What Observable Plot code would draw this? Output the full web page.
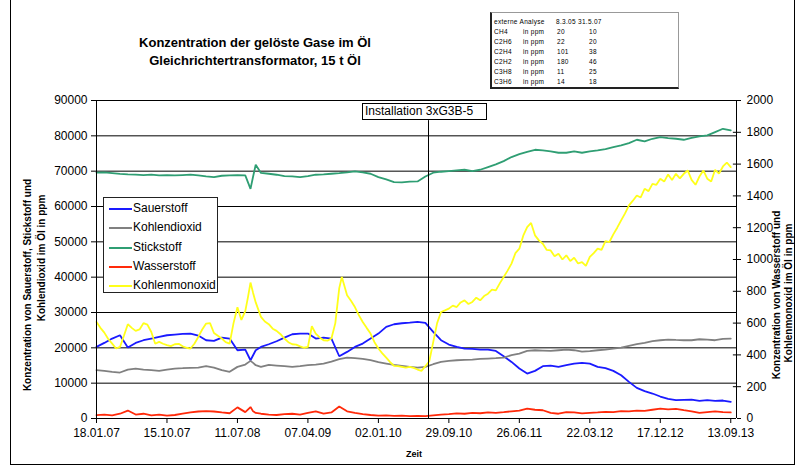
<!DOCTYPE html>
<html><head><meta charset="utf-8">
<script src="https://cdn.jsdelivr.net/npm/d3@7"></script>
<script src="https://cdn.jsdelivr.net/npm/@observablehq/plot@0.6"></script>
<style>
body{margin:0;background:#fff;font-family:"Liberation Sans",Arial,sans-serif;color:#000;}
#wrap{position:relative;width:802px;height:470px;overflow:hidden;background:#fff;}
#wrap svg{position:absolute;left:0;top:0;}
#frame{position:absolute;left:10px;top:-2px;width:785px;height:467px;border:1px solid #000;box-sizing:border-box;}
#title{position:absolute;left:100px;width:310px;top:34px;text-align:center;font-weight:bold;font-size:13px;line-height:18px;}
#table{position:absolute;left:490px;top:12px;width:189px;height:77px;border:1px solid #999;border-left:2px solid #222;border-bottom:2px solid #222;box-sizing:border-box;background:#fff;}
#table span{position:absolute;font-size:6.5px;line-height:8px;white-space:nowrap;letter-spacing:0.3px;}
#legend{position:absolute;left:103px;top:197px;width:115px;height:96px;border:1px solid #222;box-sizing:border-box;background:#fff;}
.li{position:absolute;left:0;height:19px;font-size:12px;line-height:19px;}
.li i{position:absolute;left:5px;top:9px;width:23px;height:2px;}
.li span{position:absolute;left:29px;top:0;white-space:nowrap;}
#inst{position:absolute;top:103px;height:17px;width:125px;border:1px solid #000;box-sizing:border-box;background:#fff;font-size:12px;line-height:15px;padding-left:2px;}
#zeit{position:absolute;left:406px;top:449px;font-size:9px;font-weight:bold;}
</style></head><body><div id="wrap"></div>
<script>
// ---- data ----
const startDate = "2007-01-18";
const axisEndDay = 2452;
const installationDay = 1272;
const installationLabel = "Installation 3xG3B-5";
const seriesNames = ["Sauerstoff","Kohlendioxid","Stickstoff","Wasserstoff","Kohlenmonoxid"];
const seriesColors = ["#1a1aff","#808080","#2f9e73","#ff2a0a","#ffff1a"];
const xTickLabels = ["18.01.07","15.10.07","11.07.08","07.04.09","02.01.10","29.09.10","26.06.11","22.03.12","17.12.12","13.09.13"];
const leftTicks = [0,10000,20000,30000,40000,50000,60000,70000,80000,90000];
const rightTicks = [0,200,400,600,800,1000,1200,1400,1600,1800,2000];

// days after 18.01.07
const dayOffsets = [0,30,60,90,120,150,180,210,240,270,300,330,360,390,420,450,480,510,540,570,590,600,610,630,660,690,720,750,780,810,840,870,900,930,960,990,1020,1050,1080,1110,1140,1170,1200,1230,1260,1290,1320,1350,1380,1410,1440,1470,1500,1530,1560,1590,1620,1650,1680,1710,1740,1770,1800,1830,1860,1890,1920,1950,1980,2010,2040,2070,2100,2130,2160,2190,2220,2250,2280,2310,2340,2370,2400,2430];

// primary axis (ppm)
const sauerstoff = [20260,21390,22620,23560,20080,21390,22150,22620,23090,23560,23750,23940,24030,23470,22150,21960,22900,22620,19320,19510,16490,17910,19320,20260,21020,21870,22900,23840,24030,24030,22620,22900,22620,17620,18850,20260,21210,22620,24030,25920,26670,26960,27140,27330,27050,24500,22150,20920,20260,19790,19700,19510,19510,19130,17620,16020,14140,12720,13480,14800,14990,14610,15080,15550,15740,15550,14610,14230,13480,12250,10370,8670,7730,7070,6220,5560,5180,5280,5370,5000,5180,5000,5090,4710];
const kohlendioxid = [13670,13480,13200,13010,13850,14140,13850,13670,13480,13850,14140,14230,14330,14420,14800,14420,13670,13200,14610,15270,16310,15740,15080,14610,15170,14990,14800,14610,14800,15080,15270,15550,16120,16780,17250,17060,16870,16490,15930,15550,15170,14900,14610,14420,14610,15360,16020,16310,16490,16590,16680,16870,16970,17060,17250,17910,18380,19130,19320,19230,19130,19320,19510,19320,18940,19040,19320,19510,19790,20080,20550,21020,21400,21870,22150,22340,22240,22150,22150,22430,22340,22150,22530,22620];
const stickstoff = [69600,69650,69450,69250,69100,69000,68900,69000,68800,68900,68800,68900,69000,68800,68500,68300,68700,68800,68900,68800,65000,68500,71800,69500,69270,68990,68600,68500,68330,68600,68990,69080,69270,69460,69650,69930,69650,69270,68330,67670,66920,66830,67020,67100,68500,69560,69840,70030,70220,70400,70030,70400,71160,71910,72850,73990,74830,75490,76060,75870,75590,75210,75210,75590,75210,75590,75870,76250,76810,77290,77940,78890,78420,79170,79640,79360,79170,78890,79450,79830,80110,81050,82000,81530];
// secondary axis (ppm)
const wasserstoff = [21,25,20,30,50,25,30,20,25,18,22,30,38,44,46,44,38,33,70,40,72,45,35,30,25,22,28,30,25,35,45,30,38,75,45,35,28,22,18,20,16,18,15,17,15,20,25,28,32,30,35,33,38,36,40,45,50,62,55,52,35,30,40,38,32,35,38,42,40,46,45,50,48,55,62,58,60,52,45,35,40,45,40,38];

// Kohlenmonoxid is read on a finer day grid (its own days)
const kohlenmonoxidDays = [0,15,30,45,60,75,90,105,120,135,150,165,180,195,210,225,240,255,270,285,300,315,330,345,360,375,390,405,420,435,450,465,480,495,510,525,540,555,570,580,590,600,610,630,645,660,675,690,705,720,735,750,765,780,795,810,825,840,855,870,885,900,915,930,940,960,975,990,1005,1020,1035,1050,1065,1080,1095,1110,1125,1140,1155,1170,1185,1200,1215,1230,1245,1260,1275,1290,1305,1320,1335,1350,1365,1380,1395,1410,1425,1440,1455,1470,1485,1500,1515,1530,1545,1560,1575,1590,1605,1620,1635,1650,1665,1680,1695,1710,1725,1740,1755,1770,1785,1800,1815,1830,1845,1860,1875,1890,1905,1920,1935,1950,1965,1980,1995,2010,2025,2040,2055,2070,2085,2100,2115,2130,2145,2160,2175,2190,2205,2220,2235,2250,2265,2280,2295,2310,2325,2340,2355,2370,2385,2400,2415,2430];
const kohlenmonoxid = [607,570,540,500,471,440,450,520,593,570,551,560,600,590,544,470,482,470,461,455,467,470,454,445,440,470,513,560,597,600,538,520,503,480,471,600,700,620,675,760,855,790,730,639,610,593,565,551,530,503,480,467,465,454,445,450,580,534,510,492,490,503,600,820,890,775,740,701,650,607,570,534,480,440,410,383,355,331,330,325,320,325,318,308,300,329,360,480,600,670,680,691,710,701,730,743,720,733,760,743,770,785,810,806,850,890,930,974,1040,1068,1150,1204,1230,1152,1120,1099,1060,1057,1020,1036,1000,1026,990,1011,975,984,960,1016,1040,1068,1060,1116,1110,1158,1200,1246,1290,1340,1370,1403,1390,1445,1430,1476,1470,1508,1490,1535,1500,1539,1510,1539,1560,1501,1470,1522,1560,1508,1490,1564,1540,1585,1610,1581];

const tableHeader = ["externe Analyse","8.3.05","31.5.07"];
const gasNames = ["CH4","C2H6","C2H4","C2H2","C3H8","C3H6"];
const gasUnit = "in ppm";
const analysis1 = [20,22,101,180,11,14];
const analysis2 = [10,20,38,46,25,18];

const titleLines = ["Konzentration der gelöste Gase im Öl","Gleichrichtertransformator, 15 t Öl"];
const leftTitle = ["Konzentration von Sauerstoff, Stickstoff und","Kohlendioxid im Öl in ppm"];
const rightTitle = ["Konzentration von Wasserstoff und","Kohlenmonoxid im Öl in ppm"];
const xTitle = "Zeit";

// ---- build ----
const ratio = leftTicks[leftTicks.length-1] / rightTicks[rightTicks.length-1];
const start = d3.utcParse("%Y-%m-%d")(startDate);
const toDate = d => new Date(start.getTime() + d * 864e5);
const end = toDate(axisEndDay);
const instDate = toDate(installationDay);
const tickDates = xTickLabels.map(d3.utcParse("%d.%m.%y"));
const rows = (days, vals, f) => days.map((d, i) => ({date: toDate(d), y: vals[i] * f}));
const seriesRows = [
  rows(dayOffsets, sauerstoff, 1),
  rows(dayOffsets, kohlendioxid, 1),
  rows(dayOffsets, stickstoff, 1),
  rows(dayOffsets, wasserstoff, ratio),
  rows(kohlenmonoxidDays, kohlenmonoxid, ratio)
];

const chart = Plot.plot({
  width: 802, height: 470,
  marginLeft: 96, marginRight: 66, marginTop: 100, marginBottom: 52,
  style: {fontFamily: "Liberation Sans, Arial, sans-serif", fontSize: "12px", color: "#000", background: "transparent", overflow: "visible"},
  x: {type: "utc", domain: [start, end]},
  y: {domain: [0, 90000]},
  marks: [
    Plot.ruleY(leftTicks.filter(v => v > 0), {stroke: "#000", strokeWidth: 1}),
    ...seriesRows.map((r, k) => Plot.line(r, {x: "date", y: "y", stroke: seriesColors[k], strokeWidth: 1.8, strokeLinejoin: "miter"})),
    Plot.ruleX([instDate], {y1: 0, y2: 84300, stroke: "#000", strokeWidth: 1}),
    Plot.ruleX([start], {stroke: "#000"}),
    Plot.ruleX([end], {stroke: "#000"}),
    Plot.ruleY([0], {stroke: "#000"}),
    Plot.axisY(leftTicks, {anchor: "left", tickSize: 5, tickPadding: 4, tickFormat: d => String(d), label: null}),
    Plot.axisY(rightTicks.map(v => v * ratio), {anchor: "right", tickSize: 4, tickPadding: 6, tickFormat: d => String(Math.round(d / ratio)), label: null}),
    Plot.ruleY(rightTicks.map(v => v * ratio), {y: d => d, x1: toDate(axisEndDay - 12), x2: end, stroke: "#000"}),
    Plot.axisX(tickDates, {anchor: "bottom", tickSize: 5, tickPadding: 5, tickFormat: d3.utcFormat("%d.%m.%y"), label: null})
  ]
});
const wrap = document.getElementById("wrap");
wrap.appendChild(chart);

// axis titles
const svg = d3.select(chart);
const addRot = (txt, x, y) => svg.append("text").attr("transform", `translate(${x},${y}) rotate(-90)`)
  .attr("text-anchor", "middle").attr("font-size", 10).attr("font-weight", "bold").attr("fill", "#000").text(txt);
addRot(leftTitle[0], 31, 285);
addRot(leftTitle[1], 45, 258);
addRot(rightTitle[0], 780, 295);
addRot(rightTitle[1], 792, 293);

// frame
const frame = document.createElement("div"); frame.id = "frame"; wrap.appendChild(frame);

// title
const t = document.createElement("div"); t.id = "title";
t.innerHTML = titleLines.join("<br>"); wrap.appendChild(t);

// table
const tb = document.createElement("div"); tb.id = "table";
const cell = (txt, x, y) => { const s = document.createElement("span"); s.textContent = txt; s.style.left = x + "px"; s.style.top = y + "px"; tb.appendChild(s); };
cell(tableHeader[0], 2, 5); cell(tableHeader[1], 64, 5); cell(tableHeader[2], 86, 5);
gasNames.forEach((g, i) => {
  const y = 15 + i * 10;
  cell(g, 2, y); cell(gasUnit, 31, y); cell(String(analysis1[i]), 65, y); cell(String(analysis2[i]), 97, y);
});
wrap.appendChild(tb);

// legend
const lg = document.createElement("div"); lg.id = "legend";
seriesNames.forEach((n, i) => {
  const d = document.createElement("div"); d.className = "li"; d.style.top = (1 + i * 19.3) + "px";
  d.innerHTML = `<i style="background:${seriesColors[i]}"></i><span>${n}</span>`;
  lg.appendChild(d);
});
wrap.appendChild(lg);

// installation label
const xs = chart.scale("x");
const ib = document.createElement("div"); ib.id = "inst"; ib.textContent = installationLabel;
ib.style.left = (xs.apply(instDate) - 66) + "px"; wrap.appendChild(ib);

// x title
const z = document.createElement("div"); z.id = "zeit"; z.textContent = xTitle; wrap.appendChild(z);
</script></body></html>
